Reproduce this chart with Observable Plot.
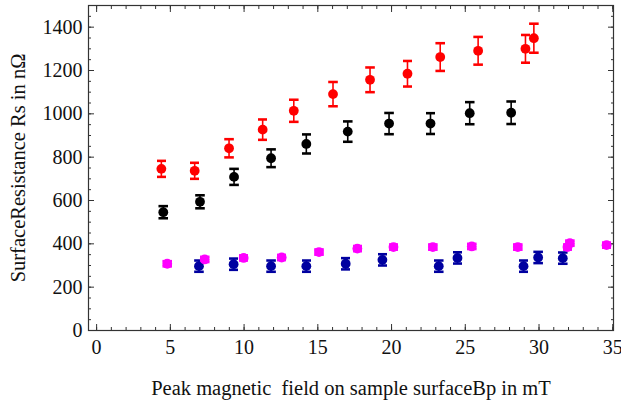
<!DOCTYPE html>
<html>
<head>
<meta charset="utf-8">
<script src="https://cdn.jsdelivr.net/npm/d3@7"></script>
<script src="https://cdn.jsdelivr.net/npm/@observablehq/plot@0.6"></script>
<style>
  html, body { margin: 0; padding: 0; background: #fff; }
  #chart svg { display: block; }
</style>
</head>
<body>
<div id="chart"></div>
<script>
// ---- data ----
const redX = [4.39, 6.65, 8.98, 11.26, 13.37, 16.03, 18.54, 21.08, 23.30, 25.87, 29.08, 29.65];
const redY = [746, 737, 841, 927, 1014, 1091, 1157, 1185, 1262, 1291, 1300, 1349];
const redErr = [37, 37, 42, 47, 51, 56, 57, 59, 64, 64, 64, 67];

const blackX = [4.52, 7.01, 9.32, 11.83, 14.22, 17.03, 19.83, 22.64, 25.30, 28.11];
const blackY = [546, 594, 709, 795, 861, 918, 955, 955, 1003, 1005];
const blackErr = [28, 30, 37, 41, 44, 47, 49, 48, 51, 52];

const blueX = [6.94, 9.29, 11.83, 14.22, 16.89, 19.38, 23.20, 24.47, 28.95, 29.94, 31.61];
const blueY = [297, 306, 297, 297, 308, 326, 297, 335, 297, 337, 334];
const blueErr = [26, 26, 26, 26, 26, 26, 26, 26, 26, 26, 26];

const magentaX = [4.79, 7.33, 9.97, 12.55, 15.08, 17.68, 20.13, 22.80, 25.44, 28.56, 31.93, 32.09, 34.58];
const magentaY = [308, 328, 335, 337, 362, 378, 385, 385, 388, 385, 385, 403, 394];
const magentaErr = [12, 12, 12, 12, 12, 12, 12, 12, 12, 12, 12, 12, 12];

const xMajor = [0, 5, 10, 15, 20, 25, 30, 35];
const xMinor = d3.range(0, 36, 1);
const yMajor = [0, 200, 400, 600, 800, 1000, 1200, 1400];
const yMinor = d3.range(0, 1501, 50);

const xTitle = "Peak magnetic\u00a0 field on sample surfaceBp in mT";
const yTitle = "SurfaceResistance Rs in n\u03a9";

const series = [
  {xs: redX, ys: redY, es: redErr, color: "#ff0000"},
  {xs: blackX, ys: blackY, es: blackErr, color: "#000000"},
  {xs: blueX, ys: blueY, es: blueErr, color: "#0000a0"},
  {xs: magentaX, ys: magentaY, es: magentaErr, color: "#ff00ff"}
];
const rows = series.flatMap(s => s.xs.map((x, i) => ({x, y: s.ys[i], lo: s.ys[i] - s.es[i], hi: s.ys[i] + s.es[i], color: s.color})));

const font = "'Liberation Serif', 'Times New Roman', serif";
const fmt = d3.format("d");

const chart = Plot.plot({
  width: 621,
  height: 407,
  marginLeft: 88,
  marginRight: 8,
  marginTop: 5,
  marginBottom: 77,
  style: {fontFamily: font, background: "#fff"},
  x: {domain: [-0.55, 35.05], label: null},
  y: {domain: [0, 1500], label: null},
  marks: [
    // inward ticks on all four sides
    Plot.axisX({anchor: "bottom", ticks: xMinor, tickSize: -3, tickFormat: () => "", label: null, stroke: "#333"}),
    Plot.axisX({anchor: "bottom", ticks: xMajor, tickSize: -6, tickFormat: () => "", label: null, stroke: "#333"}),
    Plot.axisX({anchor: "top", ticks: xMinor, tickSize: -3, tickFormat: () => "", label: null, stroke: "#333"}),
    Plot.axisX({anchor: "top", ticks: xMajor, tickSize: -6, tickFormat: () => "", label: null, stroke: "#333"}),
    Plot.axisY({anchor: "left", ticks: yMinor, tickSize: -3, tickFormat: () => "", label: null, stroke: "#333"}),
    Plot.axisY({anchor: "left", ticks: yMajor, tickSize: -6, tickFormat: () => "", label: null, stroke: "#333"}),
    Plot.axisY({anchor: "right", ticks: yMinor, tickSize: -3, tickFormat: () => "", label: null, stroke: "#333"}),
    Plot.axisY({anchor: "right", ticks: yMajor, tickSize: -6, tickFormat: () => "", label: null, stroke: "#333"}),
    // tick labels
    Plot.axisX({anchor: "bottom", ticks: xMajor, tickSize: 0, tickPadding: 9, tickFormat: fmt, label: null, fontSize: 20, fontFamily: font, fill: "#111"}),
    Plot.axisY({anchor: "left", ticks: yMajor, tickSize: 0, tickPadding: 6, tickFormat: fmt, label: null, fontSize: 20, fontFamily: font, fill: "#111"}),
    Plot.frame({stroke: "#333", strokeWidth: 1.2}),
    // error bars
    Plot.link(rows, {x1: "x", x2: "x", y1: "lo", y2: "hi", stroke: "color", strokeWidth: 1.6, markerStart: "tick", markerEnd: "tick"}),
    Plot.dot(rows, {x: "x", y: "y", r: 4.9, fill: "color", stroke: null}),
    // titles
    Plot.text([xTitle], {frameAnchor: "bottom", textAnchor: "middle", lineAnchor: "middle", dy: 58, fontSize: 20.5, fontFamily: font, fill: "#111"}),
    Plot.text([yTitle], {frameAnchor: "left", textAnchor: "middle", lineAnchor: "middle", dx: -70, rotate: -90, fontSize: 20.5, fontFamily: font, fill: "#111"})
  ]
});
document.getElementById("chart").appendChild(chart);
</script>
</body>
</html>
